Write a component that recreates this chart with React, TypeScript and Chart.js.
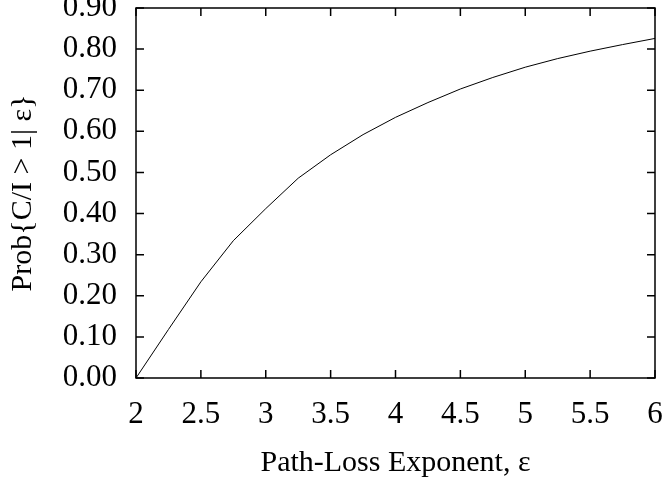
import React, { useEffect, useRef } from "react";
import { Chart, registerables } from "chart.js";

Chart.register(...registerables);

// Path-loss exponent samples and the probability that C/I exceeds 1
const exponents = [2, 2.25, 2.5, 2.75, 3, 3.25, 3.5, 3.75, 4, 4.25, 4.5, 4.75, 5, 5.25, 5.5, 5.75, 6];
const probabilities = [0, 0.118, 0.234, 0.334, 0.412, 0.486, 0.543, 0.592, 0.634, 0.670, 0.703, 0.731, 0.756, 0.777, 0.795, 0.811, 0.826];

const xTickValues = [2, 2.5, 3, 3.5, 4, 4.5, 5, 5.5, 6];
const xTickLabels = ["2", "2.5", "3", "3.5", "4", "4.5", "5", "5.5", "6"];
const yTickValues = [0, 0.1, 0.2, 0.3, 0.4, 0.5, 0.6, 0.7, 0.8, 0.9];
const yTickLabels = ["0.00", "0.10", "0.20", "0.30", "0.40", "0.50", "0.60", "0.70", "0.80", "0.90"];

const xTitle = "Path-Loss Exponent, \u03b5";
const yTitle = "Prob{C/I > 1| \u03b5}";

const FONT = '"Liberation Serif", "Times New Roman", serif';
const TICK_SIZE = 31;
const TITLE_SIZE = 30;
const W = 663;
const H = 482;

// Draws the plot frame with inward tick marks on all four sides
const framePlugin = {
  id: "frame",
  afterDraw(chart: any) {
    const { ctx, chartArea } = chart;
    const { left, right, top, bottom } = chartArea;
    const len = 8;
    ctx.save();
    ctx.strokeStyle = "#000";
    ctx.lineWidth = 1.5;
    ctx.beginPath();
    ctx.rect(left, top, right - left, bottom - top);
    ctx.stroke();
    ctx.beginPath();
    const xs = chart.scales.x;
    xTickValues.forEach((v) => {
      const px = xs.getPixelForValue(v);
      ctx.moveTo(px, bottom);
      ctx.lineTo(px, bottom - len);
      ctx.moveTo(px, top);
      ctx.lineTo(px, top + len);
    });
    const ys = chart.scales.y;
    yTickValues.forEach((v) => {
      const py = ys.getPixelForValue(v);
      ctx.moveTo(left, py);
      ctx.lineTo(left + len, py);
      ctx.moveTo(right, py);
      ctx.lineTo(right - len, py);
    });
    ctx.stroke();
    ctx.restore();
  },
};

export default function App() {
  const canvasRef = useRef<HTMLCanvasElement | null>(null);

  useEffect(() => {
    if (!canvasRef.current) return;
    const chart = new Chart(canvasRef.current, {
      type: "line",
      data: {
        datasets: [
          {
            data: exponents.map((x, i) => ({ x, y: probabilities[i] })),
            borderColor: "#000",
            borderWidth: 1,
            pointRadius: 0,
            tension: 0,
            fill: false,
          },
        ],
      },
      options: {
        responsive: false,
        animation: false,
        devicePixelRatio: 1,
        layout: { padding: { left: 0, top: 8, right: 8, bottom: 0 } },
        plugins: {
          legend: { display: false },
          tooltip: { enabled: false },
        },
        scales: {
          x: {
            type: "linear",
            min: 2,
            max: 6,
            afterBuildTicks: (scale: any) => {
              scale.ticks = xTickValues.map((value) => ({ value }));
            },
            afterFit: (scale: any) => {
              scale.height = 104;
              scale.paddingLeft = 0;
              scale.paddingRight = 0;
            },
            grid: { display: false, drawTicks: false },
            border: { display: false },
            ticks: {
              autoSkip: false,
              maxRotation: 0,
              padding: 18,
              color: "#000",
              font: { family: FONT, size: TICK_SIZE },
              callback: (_v: any, i: number) => xTickLabels[i],
            },
            title: {
              display: true,
              text: xTitle,
              color: "#000",
              font: { family: FONT, size: TITLE_SIZE },
              padding: { top: 0, bottom: 1 },
            },
          },
          y: {
            type: "linear",
            min: 0,
            max: 0.9,
            afterBuildTicks: (scale: any) => {
              scale.ticks = yTickValues.map((value) => ({ value }));
            },
            afterFit: (scale: any) => {
              scale.width = 136;
              scale.paddingTop = 0;
              scale.paddingBottom = 0;
            },
            grid: { display: false, drawTicks: false },
            border: { display: false },
            ticks: {
              autoSkip: false,
              padding: 19,
              color: "#000",
              font: { family: FONT, size: TICK_SIZE },
              callback: (_v: any, i: number) => yTickLabels[i],
            },
            title: {
              display: true,
              text: yTitle,
              color: "#000",
              font: { family: FONT, size: TITLE_SIZE },
              padding: { top: 5, bottom: 0 },
            },
          },
        },
      },
      plugins: [framePlugin],
    });
    return () => chart.destroy();
  }, []);

  return (
    <div style={{ position: "absolute", left: 0, top: 0, width: W, height: H, background: "#fff" }}>
      <canvas ref={canvasRef} width={W} height={H} style={{ width: W, height: H, display: "block" }} />
    </div>
  );
}
